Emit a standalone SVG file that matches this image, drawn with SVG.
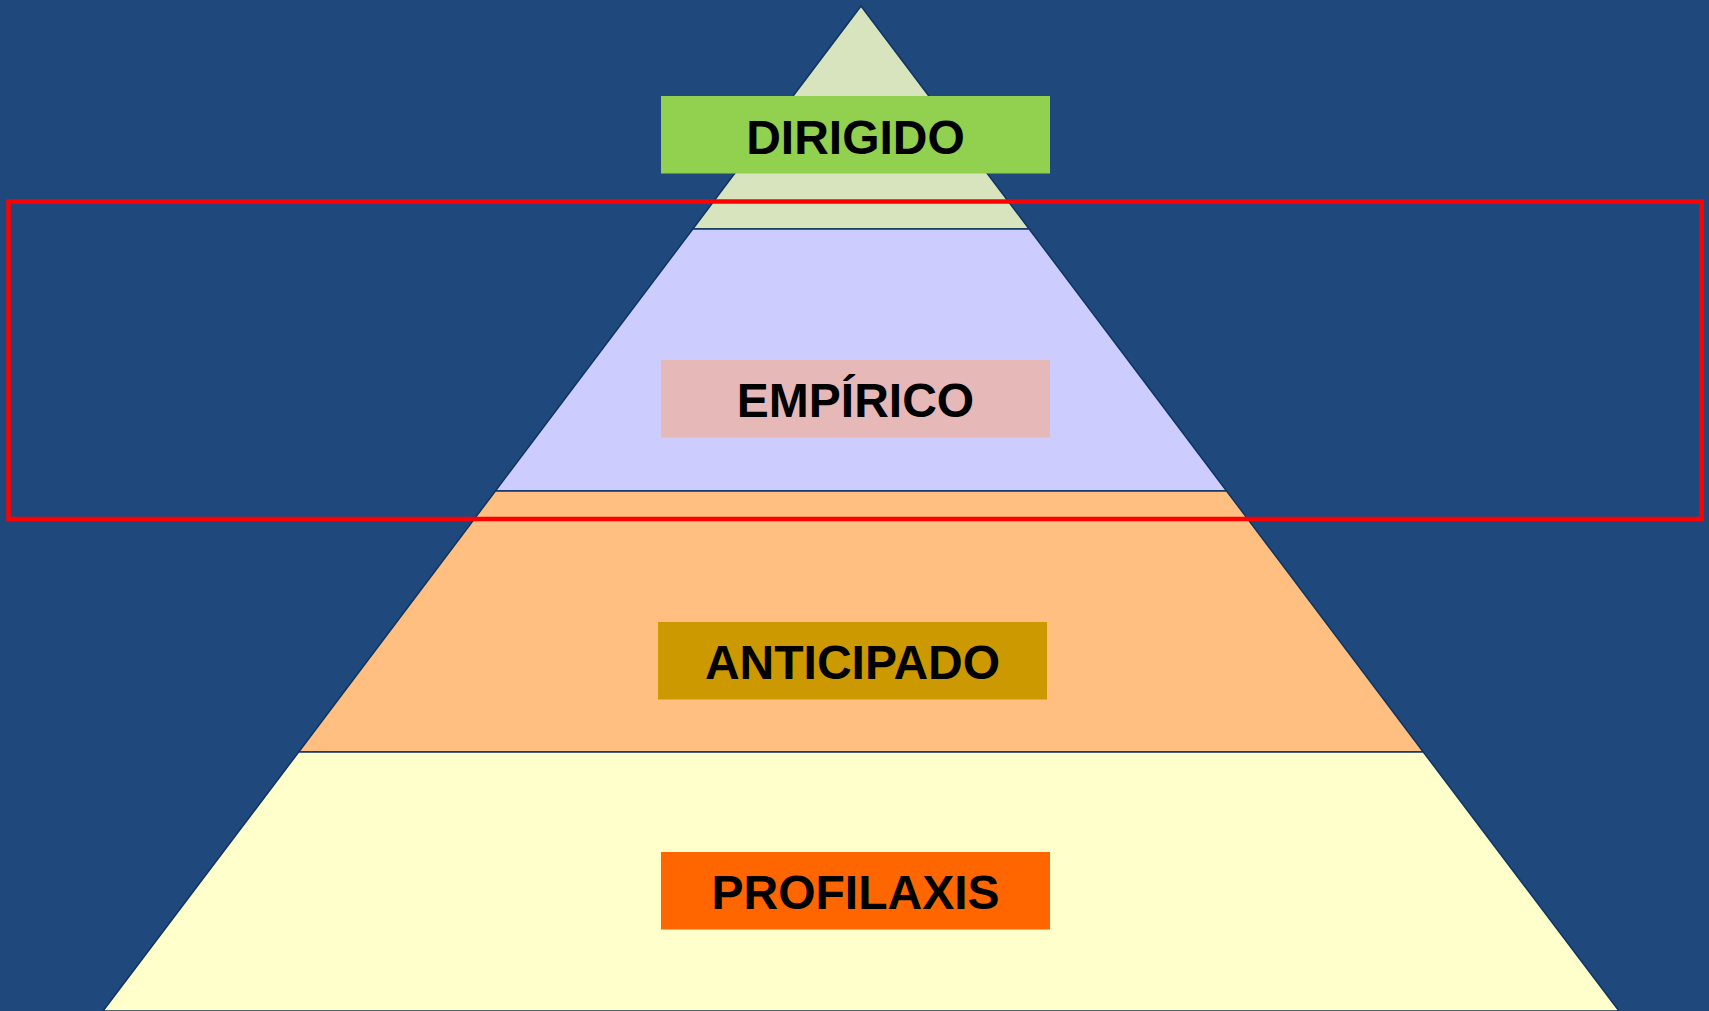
<svg xmlns="http://www.w3.org/2000/svg" width="1709" height="1011" viewBox="0 0 1709 1011">
<style>
.tier{stroke:#0F3460;stroke-width:1.5;stroke-linejoin:round}
.lbl{font-family:"Liberation Sans",Arial,sans-serif;font-weight:bold;font-size:48px;fill:#000;text-anchor:middle}
</style>
<rect x="0" y="0" width="1709" height="1011" fill="#1F497D"/>
<g id="tier-dirigido">
<polygon class="tier" points="861,6 1029.2,229 692.8,229" fill="#D7E4BD"/>
<rect x="661" y="96" width="389" height="77.5" fill="#92D050"/>
<text class="lbl" x="855.5" y="153.5">DIRIGIDO</text>
</g>
<g id="tier-empirico">
<polygon class="tier" points="692.8,229 1029.2,229 1226.6,491 495.4,491" fill="#CCCCFF"/>
<rect x="661" y="360" width="389" height="77.5" fill="#E6B9B8"/>
<text class="lbl" x="855.5" y="416.5">EMPÍRICO</text>
</g>
<g id="tier-anticipado">
<polygon class="tier" points="495.4,491 1226.6,491 1423.3,752 298.7,752" fill="#FFBF80"/>
<rect x="658" y="622" width="389" height="77.5" fill="#CC9900"/>
<text class="lbl" x="852.5" y="679">ANTICIPADO</text>
</g>
<g id="tier-profilaxis">
<polygon class="tier" points="298.7,752 1423.3,752 1619,1011 103,1011" fill="#FFFFCC"/>
<rect x="661" y="852" width="389" height="77.5" fill="#FF6600"/>
<text class="lbl" x="855.5" y="909">PROFILAXIS</text>
</g>
<g id="connectors"></g>
<g id="highlight">
<rect x="8.5" y="201.5" width="1693" height="317.5" fill="none" stroke="#FF0000" stroke-width="4.5"/>
</g>
</svg>
